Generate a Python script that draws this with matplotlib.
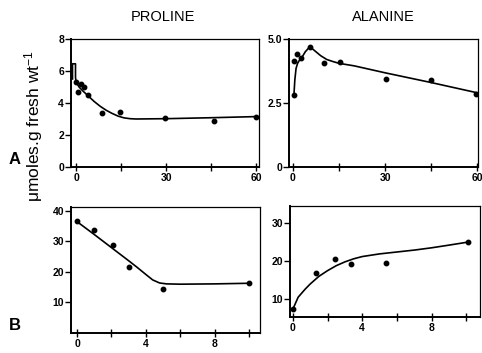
import matplotlib
matplotlib.use("Agg")
import matplotlib.pyplot as plt

plt.rcParams['font.family'] = ['Liberation Sans', 'DejaVu Sans']
plt.rcParams['mathtext.default'] = 'regular'

# A, proline (days)
pro_a_x = [0, 0.8, 1.5, 2.5, 4, 8.6, 14.5, 29.8, 46, 60]
pro_a_y = [5.3, 4.7, 5.2, 5.0, 4.5, 3.35, 3.45, 3.05, 2.85, 3.15]
pro_a_cx = [-1.2, -1.2, -0.2, -0.2, 0, 1, 2, 4, 6, 8, 10, 12, 14, 16, 18, 20, 30, 45, 60]
pro_a_cy = [5.5, 6.45, 6.45, 5.6, 5.3, 5.0, 4.8, 4.45, 4.1, 3.8, 3.55, 3.35,
            3.18, 3.07, 3.02, 3.0, 3.02, 3.08, 3.15]

# A, alanine
ala_a_x = [0.3, 0.3, 1.2, 2.6, 5.5, 10.1, 15.3, 30.2, 45, 59.8]
ala_a_y = [2.8, 4.14, 4.4, 4.25, 4.7, 4.06, 4.1, 3.45, 3.4, 2.85]
ala_a_cx = [0.3, 0.6, 1, 1.5, 2, 3, 4, 5.5, 7, 9, 11, 13, 15, 20, 30, 45, 60]
ala_a_cy = [2.8, 3.4, 3.85, 4.05, 4.15, 4.3, 4.5, 4.7, 4.55, 4.35, 4.2, 4.12,
            4.05, 3.95, 3.68, 3.3, 2.9]

# B, proline
pro_b_x = [0, 1, 2.1, 3, 5, 10]
pro_b_y = [36.7, 33.7, 29, 21.7, 14.3, 16.3]
pro_b_cx = [0, 1, 2, 3, 3.5, 4, 4.4, 4.8, 5.2, 6, 8, 10]
pro_b_cy = [36.5, 32.3, 28, 23.7, 21.5, 19.2, 17.4, 16.4, 16.1, 16.0, 16.1, 16.3]

# B, alanine
ala_b_x = [0, 1.33, 2.4, 3.35, 5.4, 10.1]
ala_b_y = [7.4, 16.8, 20.5, 19.2, 19.5, 25]
ala_b_cx = [0, 0.3, 0.7, 1, 1.5, 2, 2.5, 3, 3.5, 4, 5, 6, 7, 8, 9, 10.1]
ala_b_cy = [7.4, 10.5, 12.6, 14, 16, 17.5, 18.8, 19.8, 20.6, 21.2, 21.9, 22.4,
            22.9, 23.5, 24.2, 25]

W, H = 482, 353
fig = plt.figure(figsize=(W / 100, H / 100), dpi=100)


def box(l, r, t, b):
    return [l / W, 1 - b / H, (r - l) / W, (b - t) / H]


def panel(rect, px, py, cx, cy, xlim, ylim, xt, xtl, yt, ytl):
    ax = fig.add_axes(rect)
    ax.plot(cx, cy, color='black', lw=1.2)
    ax.plot(px, py, 'o', color='black', ms=3.2)
    ax.set_xlim(xlim)
    ax.set_ylim(ylim)
    ax.set_xticks(xt)
    ax.set_xticklabels(xtl, fontsize=7.5, fontweight='bold')
    ax.set_yticks(yt)
    ax.set_yticklabels(ytl, fontsize=7.5, fontweight='bold')
    ax.tick_params(axis='x', direction='inout', length=6, width=1, pad=1)
    ax.tick_params(axis='y', direction='out', length=4, width=1, pad=1)
    for s in ['left', 'bottom']:
        ax.spines[s].set_linewidth(1.4)
    for s in ['top', 'right']:
        ax.spines[s].set_linewidth(0.9)
    return ax


ax1 = panel(box(71, 259, 39, 167), pro_a_x, pro_a_y, pro_a_cx, pro_a_cy,
            (-1.7, 61), (0, 8), [0, 15, 30, 45, 60], ['0', '', '30', '', '60'],
            [0, 2, 4, 6, 8], ['0', '2', '4', '6', '8'])
ax2 = panel(box(289, 478, 39, 167), ala_a_x, ala_a_y, ala_a_cx, ala_a_cy,
            (-1.3, 60.3), (0, 5), [0, 15, 30, 45, 60], ['0', '', '30', '', '60'],
            [0, 2.5, 5], ['0', '2.5', '5.0'])
ax3 = panel(box(71, 260, 207, 333), pro_b_x, pro_b_y, pro_b_cx, pro_b_cy,
            (-0.35, 10.64), (0, 41.3), [0, 2, 4, 6, 8, 10], ['0', '', '4', '', '8', ''],
            [10, 20, 30, 40], ['10', '20', '30', '40'])
ax4 = panel(box(290, 480, 206, 317), ala_b_x, ala_b_y, ala_b_cx, ala_b_cy,
            (-0.17, 10.8), (5.3, 34.5), [0, 2, 4, 6, 8, 10], ['0', '', '4', '', '8', ''],
            [10, 20, 30], ['10', '20', '30'])

fig.text(163 / W, 1 - 17 / H, 'PROLINE', ha='center', va='center', fontsize=10.5)
fig.text(383 / W, 1 - 17 / H, 'ALANINE', ha='center', va='center', fontsize=10.5)
fig.text(34 / W, 1 - 126 / H, '$\\mu$moles.g fresh wt$^{-1}$', rotation=90,
         ha='center', va='center', fontsize=12.5)
fig.text(15 / W, 1 - 160 / H, 'A', ha='center', va='center', fontsize=12, fontweight='bold')
fig.text(15 / W, 1 - 325 / H, 'B', ha='center', va='center', fontsize=12, fontweight='bold')

fig.savefig('out.png', dpi=100)
